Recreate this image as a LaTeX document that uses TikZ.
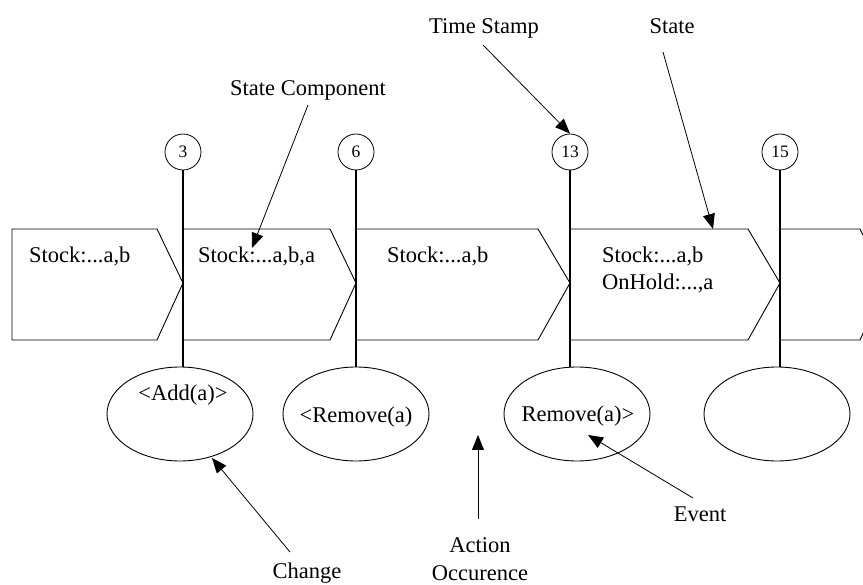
\documentclass[tikz,border=0pt]{standalone}
\usepackage{fontspec}
\setmainfont{Liberation Serif}
\usetikzlibrary{arrows.meta,shapes.geometric}
\begin{document}
\begin{tikzpicture}[x=1pt,y=1pt,
  txt/.style={font=\fontsize{22.5}{28}\selectfont, inner sep=0pt},
  stamp/.style={draw, circle, minimum size=36pt, inner sep=0pt, line width=0.8pt, font=\fontsize{17.5}{20}\selectfont},
  evt/.style={draw, ellipse, minimum width=146pt, minimum height=94pt, inner sep=0pt, line width=0.9pt},
  statebox/.style={draw, line width=0.9pt},
  tline/.style={line width=1.7pt},
  callout/.style={line width=0.8pt, -{Triangle[length=15pt,width=12pt]}}]
\useasboundingbox (0,0) rectangle (863,-585);

% time stamps
\node[stamp] (t3)  at (183,-152) {3};
\node[stamp] (t6)  at (356,-152) {6};
\node[stamp] (t13) at (570,-152) {13};
\node[stamp] (t15) at (780,-152) {15};

% events
\node[evt] (e1) at (180,-414) {};
\node[evt] (e2) at (356,-414) {};
\node[evt] (e3) at (577,-414) {};
\node[evt] (e4) at (777,-414) {};
\node[txt] at (183,-395) {<Add(a)>};
\node[txt] at (356,-417) {<Remove(a)};
\node[txt] at (578,-416) {Remove(a)>};

% states
\begin{scope}
\clip (0,0) rectangle (863,-585);
\draw[statebox] (12,-229) -- (157,-229) -- (183,-283) -- (157,-340) -- (12,-340) -- cycle;
\draw[statebox] (183,-229) -- (330,-229) -- (356,-283) -- (330,-340) -- (183,-340);
\draw[statebox] (356,-229) -- (538,-229) -- (570,-283) -- (538,-340) -- (356,-340);
\draw[statebox] (570,-229) -- (748,-229) -- (780,-283) -- (748,-340) -- (570,-340);
\draw[statebox] (780,-229) -- (860,-229) -- (886,-283) -- (860,-340) -- (780,-340);
\end{scope}
\node[txt, anchor=base west] (s1) at (29,-263) {Stock:...a,b};
\node[txt, anchor=base west] (s2) at (198,-263) {Stock:...a,b,a};
\node[txt, anchor=base west] (s3) at (387,-263) {Stock:...a,b};
\node[txt, anchor=base west] (s4a) at (602,-263) {Stock:...a,b};
\node[txt, anchor=base west] (s4b) at (602,-290) {OnHold:...,a};

% time lines
\draw[tline] (t3.south)  -- (t3.south |- e1.north);
\draw[tline] (t6.south)  -- (t6.south |- e2.north);
\draw[tline] (t13.south) -- (t13.south |- e3.north);
\draw[tline] (t15.south) -- (t15.south |- e4.north);

% labels
\node[txt] (lts) at (484,-28) {Time Stamp};
\node[txt] (lst) at (672,-26) {State};
\node[txt] (lsc) at (308,-90) {State Component};
\node[txt] (lch) at (307,-573) {Change};
\node[txt, align=center] (lac) at (480,-559) {Action\\Occurence};
\node[txt] (lev) at (700,-514) {Event};

\coordinate (tsA) at (483,-45);
\coordinate (stA) at (663,-52);
\coordinate (stB) at (713,-229);
\coordinate (scA) at (308,-105);
\coordinate (scB) at (252,-248);
\coordinate (chA) at (290,-552);
\coordinate (chB) at (212,-458);
\coordinate (acA) at (478,-519);
\coordinate (acB) at (478,-435);
\coordinate (evA) at (693,-498);
\coordinate (evB) at (588,-435);

\draw[callout] (tsA) -- (t13.north);
\draw[callout] (stA) -- (stB);
\draw[callout] (scA) -- (scB);
\draw[callout] (chA) -- (chB);
\draw[callout] (acA) -- (acB);
\draw[callout] (evA) -- (evB);
\end{tikzpicture}
\end{document}
